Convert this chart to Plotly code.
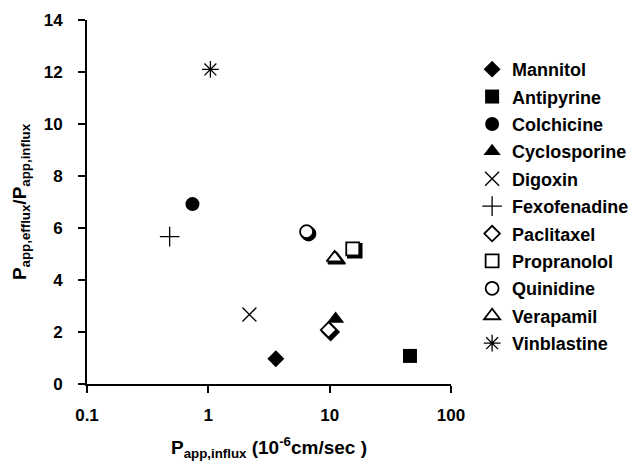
import plotly.graph_objects as go

compounds = ["Mannitol", "Antipyrine", "Colchicine", "Cyclosporine", "Digoxin",
             "Fexofenadine", "Paclitaxel", "Propranolol", "Quinidine", "Verapamil", "Vinblastine"]
p_influx = [3.6, 45.9, 0.74, 11.2, 2.18, 0.48, 9.8, 15.5, 6.45, 11.0, 1.04]
efflux_ratio = [0.97, 1.08, 6.92, 2.5, 2.67, 5.67, 2.08, 5.2, 5.86, 4.85, 12.1]

symbols = ["diamond", "square", "circle", "triangle-up", "x-thin-open", "cross-thin-open",
           "diamond", "square", "circle", "triangle-up", "asterisk-open"]
sizes = [13, 14, 14, 15, 14, 14, 13, 14, 14, 15, 14]
open_marker = [False, False, False, False, False, False, True, True, True, True, False]
thin_marker = [False, False, False, False, True, True, False, False, False, False, True]

FONT = "Liberation Sans, Arial, sans-serif"

fig = go.Figure()

# shadows behind open markers (derived from data: small offset down-right)
for name, x, y, s, sz, op in zip(compounds, p_influx, efflux_ratio, symbols, sizes, open_marker):
    if op:
        fig.add_trace(go.Scatter(
            x=[x * 10 ** (2 / 121)], y=[y - 2 / 26], mode="markers", showlegend=False,
            hoverinfo="skip",
            marker=dict(symbol=s, size=sz, color="black", line=dict(color="black", width=1.5))))

for i, (name, x, y, s, sz, op, th) in enumerate(zip(compounds, p_influx, efflux_ratio, symbols,
                                                     sizes, open_marker, thin_marker)):
    if op:
        marker = dict(symbol=s, size=sz - 1, color="white", line=dict(color="black", width=1.8))
    elif th:
        marker = dict(symbol=s, size=sz, color="black", line=dict(color="black", width=1.3))
    else:
        marker = dict(symbol=s, size=sz, color="black", line=dict(color="black", width=0))
    fig.add_trace(go.Scatter(x=[x], y=[y], mode="markers", name=name, marker=marker,
                             legendgroup=f"g{i}"))

fig.update_layout(
    width=642, height=465,
    margin=dict(l=87, r=191, t=20, b=81, autoexpand=False),
    paper_bgcolor="white", plot_bgcolor="white",
    font=dict(family=FONT, color="black", size=17, weight="bold"),
    legend=dict(x=1.058, y=0.915, xanchor="left", yanchor="top",
                font=dict(family=FONT, size=18, weight="bold", color="black"),
                traceorder="grouped", tracegroupgap=1, itemwidth=30,
                bgcolor="rgba(0,0,0,0)"),
    xaxis=dict(type="log", range=[-1, 2], showgrid=False, zeroline=False,
               showline=True, linecolor="black", linewidth=2,
               ticks="outside", ticklen=7, tickwidth=2, tickcolor="black",
               tickvals=[0.1, 1, 10, 100], ticktext=["0.1", "1", "10", "100"],
               tickfont=dict(size=17, weight="bold"), ticklabelstandoff=8,
               title=dict(text="P<sub>app,influx</sub> (10<sup>-6</sup>cm/sec )",
                          font=dict(size=19, weight="bold"), standoff=16)),
    yaxis=dict(range=[0, 14], showgrid=False, zeroline=False,
               showline=True, linecolor="black", linewidth=2,
               ticks="outside", ticklen=7, tickwidth=2, tickcolor="black",
               tickvals=list(range(0, 15, 2)),
               tickfont=dict(size=17, weight="bold"), ticklabelstandoff=12,
               title=dict(text="P<sub>app,efflux</sub>/P<sub>app,influx</sub>",
                          font=dict(size=19, weight="bold"), standoff=12)),
)

fig.write_html("out.html")
